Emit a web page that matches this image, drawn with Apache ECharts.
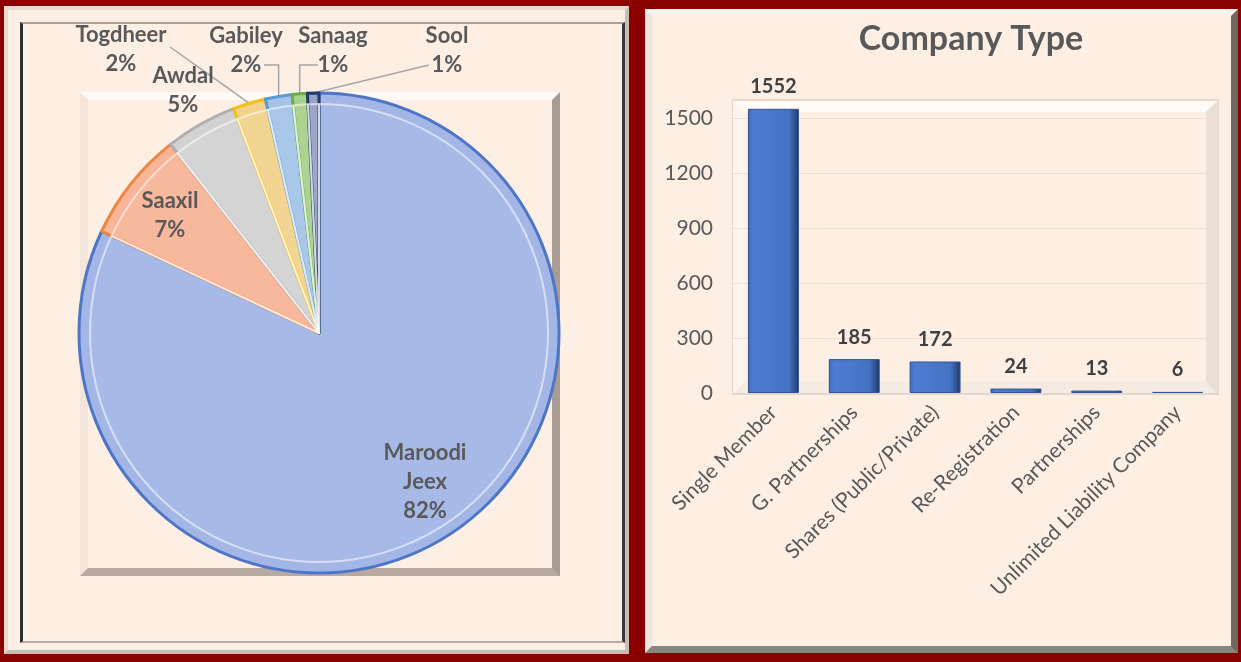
<!DOCTYPE html>
<html>
<head>
<meta charset="utf-8">
<script src="https://cdn.jsdelivr.net/npm/echarts@6/dist/echarts.min.js"></script>
<style>
body{margin:0;background:#8B0000;width:1241px;height:662px;overflow:hidden;position:relative;}
.box{position:absolute;box-sizing:border-box;}
#leftPanel{left:4px;top:6px;width:625px;height:648px;background:#FDEFE3;border:4px solid;border-color:#e6dad1 #c9bdb4 #c9bdb4 #e6dad1;}
#leftInner{left:20px;top:22px;width:605px;height:621px;border-left:3px solid #2e2e2e;border-top:2px solid #aaa097;border-right:3px solid #3a3a3a;border-bottom:2px solid #b8ada5;}
#pieFrame{left:80px;top:92px;width:480px;height:484px;border:8px solid;border-color:#fffaf5 #a99c92 #b8aaa0 #f3e5d9;}
#rightPanel{left:645px;top:9px;width:593px;height:644px;background:#FDEFE3;border:7px solid;border-color:#fbf4ee #6f6762 #8e847e #f1e6dd;}
#barFrame{left:733px;top:100px;width:485px;height:294px;border:12px solid;border-color:#fffbf7 #eadfd6 #f6ebe2 #fdf5ee;outline:1px solid #e3d7cd;}
#main{position:absolute;left:0;top:0;width:1241px;height:662px;}
</style>
</head>
<body>
<div class="box" id="leftPanel"></div>
<div class="box" id="leftInner"></div>
<div class="box" id="pieFrame"></div>
<div class="box" id="rightPanel"></div>
<div class="box" id="barFrame"></div>
<div id="main"></div>
<script>
// regions (pie)
const regionNames = ['Maroodi Jeex', 'Saaxil', 'Awdal', 'Togdheer', 'Gabiley', 'Sanaag', 'Sool'];
const regionValues = [1600, 145, 94, 43, 35, 20, 15];

// company types (bar)
const typeNames = ['Single Member', 'G. Partnerships', 'Shares (Public/Private)', 'Re-Registration', 'Partnerships', 'Unlimited Liability Company'];
const typeValues = [1552, 185, 172, 24, 13, 6];

// slice styles
const sliceFill = ['#A3B6E6', '#F8B597', '#D2D2D2', '#F2D38E', '#A5C5E8', '#A9D18E', '#95A3C6'];
const sliceEdge = ['#4E76C8', '#EE8540', '#B0B0B0', '#F7BF16', '#5B9BD5', '#6EAD46', '#22396B'];

// label placement on the pie
const labelPos = [[425, 482], [170, 215], [183, 90], [121, 49], [246, 50], [333, 50], [447, 50]];
const lineStart = [null, null, null, [170, 47], [264, 65], [318, 65], [429, 65]];
const lineElbow = [false, false, false, false, true, true, false];

const font = 'Lato, "Open Sans", sans-serif';
const chart = echarts.init(document.getElementById('main'));

const option = {
  backgroundColor: 'transparent',
  animation: false,
  title: {
    text: 'Company Type',
    left: 966,
    top: 17,
    textAlign: 'center',
    textStyle: {fontFamily: font, fontSize: 34, fontWeight: 'bold', color: '#595959'}
  },
  grid: {left: 733, top: 100, width: 485, height: 293},
  xAxis: {
    type: 'category',
    data: typeNames,
    axisLine: {lineStyle: {color: '#e6d6ca', width: 1}},
    axisTick: {show: false},
    axisLabel: {rotate: 45, margin: 16, fontFamily: font, fontSize: 21, color: '#595959', interval: 0}
  },
  yAxis: {
    type: 'value',
    min: 0,
    max: 1600,
    interval: 300,
    axisLine: {show: false},
    axisTick: {show: false},
    axisLabel: {showMaxLabel: false, formatter: v => String(v), margin: 20, fontFamily: font, fontSize: 21, color: '#595959'},
    splitLine: {lineStyle: {color: '#f6dccb', width: 1}}
  },
  series: [
    {
      type: 'bar',
      data: typeValues,
      barWidth: '63%',
      itemStyle: {
        color: new echarts.graphic.LinearGradient(0, 0, 1, 0, [
          {offset: 0, color: '#3d68b8'},
          {offset: 0.1, color: '#4d7dd2'},
          {offset: 0.8, color: '#4472c4'},
          {offset: 0.92, color: '#2f528f'},
          {offset: 1, color: '#1c3460'}
        ]),
        borderColor: '#2f5597',
        borderWidth: 1
      },
      label: {
        show: true,
        position: 'top',
        distance: 12,
        fontFamily: font,
        fontSize: 20,
        fontWeight: 'bold',
        color: '#404040'
      }
    },
    {
      type: 'pie',
      center: [319, 333],
      radius: 240,
      startAngle: 90,
      clockwise: true,
      percentPrecision: 0,
      avoidLabelOverlap: false,
      data: regionNames.map((n, i) => ({
        name: n,
        value: regionValues[i],
        itemStyle: {color: sliceFill[i], borderColor: sliceEdge[i]},
        labelLine: {show: lineStart[i] != null}
      })),
      itemStyle: {borderWidth: 3},
      label: {
        show: true,
        formatter: p => p.name.replace(' ', '\n') + '\n' + p.percent + '%',
        fontFamily: font,
        fontSize: 22,
        fontWeight: 'bold',
        color: '#595959',
        lineHeight: 29,
        align: 'center'
      },
      labelLine: {show: true, lineStyle: {color: '#a6a6a6', width: 1.5}},
      labelLayout: function (p) {
        const i = p.dataIndex;
        const res = {x: labelPos[i][0], y: labelPos[i][1], align: 'center', verticalAlign: 'middle'};
        if (lineStart[i] && p.labelLinePoints) {
          const e = p.labelLinePoints[0];
          const s = lineStart[i];
          const mid = lineElbow[i] ? [e[0], s[1]] : [(e[0] + s[0]) / 2, (e[1] + s[1]) / 2];
          res.labelLinePoints = [[e[0], e[1]], mid, s];
        }
        return res;
      }
    },
    {
      // inner bevel highlight over the same slices
      type: 'pie',
      silent: true,
      center: [319, 333],
      radius: 229,
      startAngle: 90,
      clockwise: true,
      label: {show: false},
      labelLine: {show: false},
      data: regionNames.map((n, i) => ({name: n, value: regionValues[i]})),
      itemStyle: {color: 'rgba(255,255,255,0.05)', borderColor: 'rgba(255,255,255,0.55)', borderWidth: 2}
    }
  ]
};
chart.setOption(option);
</script>
</body>
</html>
